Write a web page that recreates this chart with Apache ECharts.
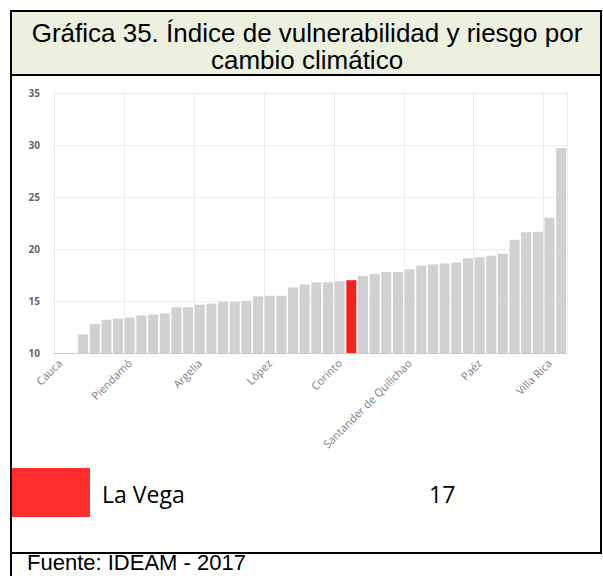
<!DOCTYPE html>
<html>
<head>
<meta charset="utf-8">
<script src="https://cdn.jsdelivr.net/npm/echarts@6/dist/echarts.min.js"></script>
<style>
  html, body { margin: 0; padding: 0; background: #fff; }
  #chart { width: 603px; height: 576px; }
</style>
</head>
<body>
<div id="chart"></div>
<script>
// municipios (solo algunos nombres se ven en el eje)
const municipios = [
  "Cauca", "Colombia", "Popayán", "Almaguer", "Balboa", "Bolívar",
  "Piendamó", "Buenos Aires", "Cajibío", "Caldono", "Caloto", "El Tambo",
  "Argelia", "Florencia", "Guachené", "Guapí", "Inzá", "Jambaló",
  "López", "La Sierra", "Mercaderes", "Miranda", "Morales", "Padilla",
  "Corinto", "La Vega", "Patía", "Piamonte", "Puerto Tejada", "Puracé",
  "Santander de Quilichao", "Rosas", "San Sebastián", "Santa Rosa", "Silvia", "Sotará",
  "Paéz", "Suárez", "Sucre", "Timbío", "Timbiquí", "Toribío",
  "Villa Rica", "Totoró"
];
// índice de vulnerabilidad y riesgo
const indice = [
  null, null, 11.8, 12.8, 13.2, 13.3,
  13.4, 13.6, 13.7, 13.8, 14.4, 14.4,
  14.65, 14.75, 14.9, 14.9, 15.0, 15.45,
  15.5, 15.5, 16.3, 16.6, 16.8, 16.8,
  16.9, 17.0, 17.4, 17.6, 17.8, 17.8,
  18.05, 18.4, 18.5, 18.6, 18.7, 19.1,
  19.2, 19.35, 19.55, 20.9, 21.6, 21.65,
  23.0, 29.7
];
const destacado = "La Vega";
const valorDestacado = 17;
const yTicks = [10, 15, 20, 25, 30, 35];

const GRIS = "#d0d1d3";
const ROJO = "#f4221f";

let chart = echarts.init(document.getElementById("chart"), null, { renderer: "svg" });

let barData = indice.map((v, i) => ({
  value: v,
  itemStyle: { color: municipios[i] === destacado ? ROJO : GRIS }
}));

let option = {
  animation: false,
  grid: { left: 54, right: 36, top: 93, bottom: 223 },
  xAxis: {
    type: "category",
    data: municipios,
    boundaryGap: true,
    axisLine: { lineStyle: { color: "#c8c8c8", width: 1 } },
    axisTick: {
      alignWithLabel: true,
      interval: 5,
      length: 4,
      lineStyle: { color: "#c8c8c8" }
    },
    axisLabel: {
      interval: 5,
      rotate: 45,
      margin: 8,
      color: "#7d7d7d",
      fontSize: 11,
      fontFamily: "Open Sans"
    },
    splitLine: { show: true, interval: 5, lineStyle: { color: "#ececec" } }
  },
  yAxis: {
    type: "value",
    min: yTicks[0],
    max: yTicks[yTicks.length - 1],
    interval: 5,
    axisLine: { show: false },
    axisTick: { show: false },
    axisLabel: {
      margin: 14,
      color: "#666",
      fontSize: 10,
      fontWeight: "bold",
      fontFamily: "Open Sans"
    },
    splitLine: { lineStyle: { color: "#ececec" } }
  },
  series: [{
    type: "bar",
    data: barData,
    barWidth: 10
  }],
  graphic: [
    // fondo del título
    { type: "rect", shape: { x: 11, y: 11, width: 590, height: 63 }, style: { fill: "#ebf1de" }, silent: true },
    // marco
    { type: "line", shape: { x1: 11, y1: 10, x2: 11, y2: 576 }, style: { stroke: "#000", lineWidth: 2 } },
    { type: "line", shape: { x1: 10, y1: 11, x2: 602, y2: 11 }, style: { stroke: "#000", lineWidth: 2 } },
    { type: "line", shape: { x1: 601, y1: 10, x2: 601, y2: 553 }, style: { stroke: "#000", lineWidth: 2 } },
    { type: "line", shape: { x1: 10, y1: 75, x2: 602, y2: 75 }, style: { stroke: "#000", lineWidth: 2 } },
    { type: "line", shape: { x1: 10, y1: 553, x2: 602, y2: 553 }, style: { stroke: "#000", lineWidth: 2 } },
    // título
    {
      type: "text", x: 307, y: 33,
      style: {
        text: "Gráfica 35. Índice de vulnerabilidad y riesgo por",
        font: "26px 'Liberation Sans', Arial", fill: "#000",
        textAlign: "center", textVerticalAlign: "middle"
      }
    },
    {
      type: "text", x: 307, y: 60,
      style: {
        text: "cambio climático",
        font: "26px 'Liberation Sans', Arial", fill: "#000",
        textAlign: "center", textVerticalAlign: "middle"
      }
    },
    // leyenda
    { type: "rect", shape: { x: 12, y: 468, width: 78, height: 49 }, style: { fill: "#ff2d2d" } },
    {
      type: "text", x: 102, y: 494,
      style: {
        text: destacado, font: "23px 'Open Sans'", fill: "#000",
        textVerticalAlign: "middle"
      }
    },
    {
      type: "text", x: 429, y: 494,
      style: {
        text: String(valorDestacado), font: "23px 'Open Sans'", fill: "#000",
        textVerticalAlign: "middle"
      }
    },
    // fuente
    {
      type: "text", x: 27, y: 562,
      style: {
        text: "Fuente: IDEAM - 2017", font: "22px 'Liberation Sans', Arial", fill: "#000",
        textVerticalAlign: "middle"
      }
    }
  ]
};

chart.setOption(option);
</script>
</body>
</html>
